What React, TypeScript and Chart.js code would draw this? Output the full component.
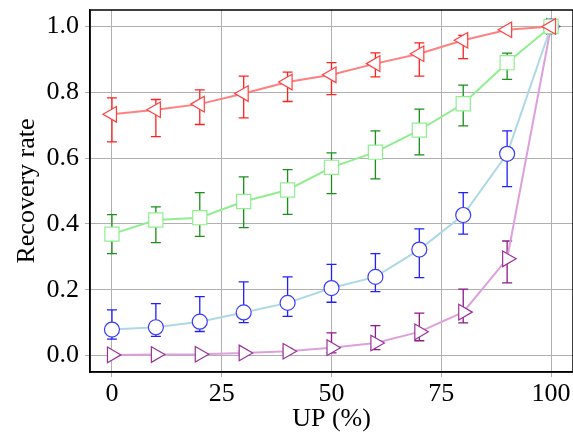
import React, { useEffect, useRef } from "react";
import { Chart, registerables } from "chart.js";

Chart.register(...registerables);

const xValues = [0, 10, 20, 30, 40, 50, 60, 70, 80, 90, 100];
const xTicks = [0, 25, 50, 75, 100];
const yTicks = [0, 0.2, 0.4, 0.6, 0.8, 1.0];

const redMean = [0.733, 0.747, 0.764, 0.796, 0.831, 0.853, 0.887, 0.917, 0.958, 0.99, 1.0];
const redLow = [0.649, 0.665, 0.702, 0.722, 0.772, 0.793, 0.847, 0.849, 0.902, 0.985, 1.0];
const redHigh = [0.783, 0.778, 0.807, 0.849, 0.861, 0.89, 0.92, 0.95, 0.973, 0.995, 1.0];

const greenMean = [0.369, 0.412, 0.419, 0.468, 0.503, 0.572, 0.618, 0.685, 0.765, 0.89, 1.0];
const greenLow = [0.31, 0.343, 0.362, 0.389, 0.429, 0.492, 0.537, 0.61, 0.698, 0.839, 1.0];
const greenHigh = [0.428, 0.452, 0.495, 0.543, 0.565, 0.616, 0.683, 0.749, 0.822, 0.919, 1.0];

const blueMean = [0.079, 0.086, 0.103, 0.131, 0.16, 0.205, 0.239, 0.322, 0.427, 0.613, 1.0];
const blueLow = [0.05, 0.058, 0.073, 0.1, 0.119, 0.162, 0.194, 0.237, 0.369, 0.513, 1.0];
const blueHigh = [0.139, 0.158, 0.179, 0.224, 0.239, 0.277, 0.31, 0.385, 0.495, 0.683, 1.0];

const purpleMean = [0.002, 0.003, 0.004, 0.008, 0.013, 0.024, 0.038, 0.072, 0.132, 0.294, 1.0];
const purpleLow = [0.0, 0.001, 0.002, 0.004, 0.007, 0.008, 0.018, 0.045, 0.099, 0.221, 1.0];
const purpleHigh = [0.004, 0.005, 0.007, 0.014, 0.022, 0.069, 0.091, 0.129, 0.202, 0.348, 1.0];

const FONT = "'Liberation Serif', 'Times New Roman', Times, serif";

const errorSets = [
  { low: purpleLow, high: purpleHigh, color: "#8b1a8b" },
  { low: blueLow, high: blueHigh, color: "#2020ff" },
  { low: greenLow, high: greenHigh, color: "#1a8f1a" },
  { low: redLow, high: redHigh, color: "#ff2020" },
];

const errorBarPlugin = {
  id: "errorBars",
  beforeDatasetsDraw(chart: any) {
    const ctx = chart.ctx;
    const xs = chart.scales.x;
    const ys = chart.scales.y;
    ctx.save();
    ctx.lineWidth = 1.3;
    errorSets.forEach((s) => {
      ctx.strokeStyle = s.color;
      xValues.forEach((xv, i) => {
        const px = xs.getPixelForValue(xv);
        const yl = ys.getPixelForValue(s.low[i]);
        const yh = ys.getPixelForValue(s.high[i]);
        if (Math.abs(yl - yh) < 2) return;
        ctx.beginPath();
        ctx.moveTo(px, yl);
        ctx.lineTo(px, yh);
        ctx.moveTo(px - 5, yl);
        ctx.lineTo(px + 5, yl);
        ctx.moveTo(px - 5, yh);
        ctx.lineTo(px + 5, yh);
        ctx.stroke();
      });
    });
    ctx.restore();
  },
  afterDraw(chart: any) {
    const { ctx, chartArea } = chart;
    ctx.save();
    ctx.strokeStyle = "#000";
    ctx.lineWidth = 1.5;
    ctx.strokeRect(chartArea.left, chartArea.top, chartArea.right - chartArea.left, chartArea.bottom - chartArea.top);
    ctx.restore();
  },
};

function toPts(ys: number[]) {
  return xValues.map((x, i) => ({ x, y: ys[i] }));
}

export default function App() {
  const ref = useRef<HTMLCanvasElement>(null);
  useEffect(() => {
    if (!ref.current) return;
    const chart = new Chart(ref.current, {
      type: "line",
      data: {
        datasets: [
          {
            data: toPts(redMean),
            borderColor: "#ff8080",
            borderWidth: 2,
            pointStyle: "triangle",
            rotation: -90,
            pointRadius: 9,
            pointBorderColor: "#ff4040",
            pointBackgroundColor: "#ffffff",
            pointBorderWidth: 1.2,
          },
          {
            data: toPts(greenMean),
            borderColor: "#90ee90",
            borderWidth: 2,
            pointStyle: "rect",
            pointRadius: 10,
            pointBorderColor: "#90ee90",
            pointBackgroundColor: "#ffffff",
            pointBorderWidth: 1.2,
          },
          {
            data: toPts(blueMean),
            borderColor: "#add8e6",
            borderWidth: 2,
            pointStyle: "circle",
            pointRadius: 7.5,
            pointBorderColor: "#3a3aff",
            pointBackgroundColor: "#ffffff",
            pointBorderWidth: 1.2,
          },
          {
            data: toPts(purpleMean),
            borderColor: "#dda0dd",
            borderWidth: 2,
            pointStyle: "triangle",
            rotation: 90,
            pointRadius: 9,
            pointBorderColor: "#993399",
            pointBackgroundColor: "#ffffff",
            pointBorderWidth: 1.2,
          },
        ],
      },
      options: {
        animation: false,
        responsive: false,
        maintainAspectRatio: false,
        layout: { autoPadding: false, padding: { top: 10, right: 0, left: 0, bottom: 0 } },
        plugins: { legend: { display: false }, tooltip: { enabled: false } },
        scales: {
          x: {
            type: "linear",
            min: -5,
            max: 105,
            afterBuildTicks: (s: any) => {
              s.ticks = xTicks.map((v) => ({ value: v }));
            },
            afterFit: (s: any) => {
              s.height = 63;
              s.paddingLeft = 0;
              s.paddingRight = 0;
            },
            grid: { color: "#b0b0b0", lineWidth: 1, tickLength: 5, tickColor: "#b0b0b0" },
            border: { display: true, color: "#000", width: 1.5 },
            ticks: { color: "#000", font: { family: FONT, size: 26 }, padding: 2, maxRotation: 0 },
            title: {
              display: true,
              text: "UP (%)",
              color: "#000",
              font: { family: FONT, size: 26 },
              padding: { top: 0, bottom: 0 },
            },
          },
          y: {
            type: "linear",
            min: -0.05,
            max: 1.05,
            afterBuildTicks: (s: any) => {
              s.ticks = yTicks.map((v) => ({ value: v }));
            },
            afterFit: (s: any) => {
              s.width = 90;
              s.paddingTop = 0;
              s.paddingBottom = 0;
            },
            grid: { color: "#b0b0b0", lineWidth: 1, tickLength: 5, tickColor: "#b0b0b0" },
            border: { display: true, color: "#000", width: 1.5 },
            ticks: {
              color: "#000",
              font: { family: FONT, size: 26 },
              padding: 6,
              callback: (v: any) => Number(v).toFixed(1),
            },
            title: {
              display: true,
              text: "Recovery rate",
              color: "#000",
              font: { family: FONT, size: 26 },
              padding: { top: 12, bottom: 0 },
            },
          },
        },
      },
      plugins: [errorBarPlugin],
    } as any);
    return () => chart.destroy();
  }, []);
  return (
    <div style={{ position: "fixed", left: 0, top: 0, width: 573, height: 435, background: "#fff" }}>
      <canvas ref={ref} width={573} height={435} style={{ display: "block" }} />
    </div>
  );
}
